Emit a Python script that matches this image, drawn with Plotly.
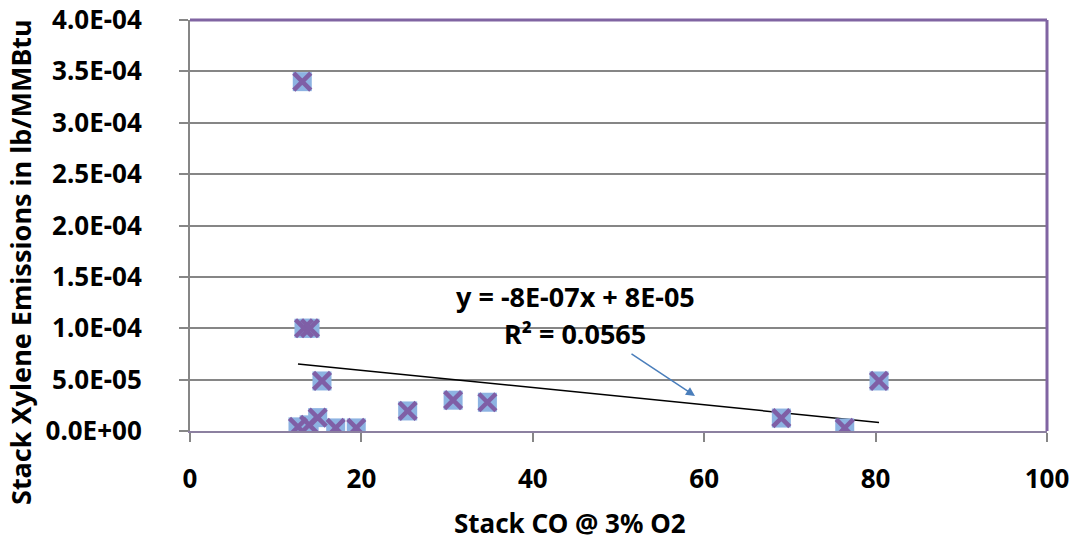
import numpy as np
import plotly.graph_objects as go

# Data
stack_co = [13.1, 13.3, 14.0, 15.4, 25.4, 30.7, 34.7, 69.0, 76.4, 80.4,
            12.6, 13.9, 14.9, 17.0, 19.4]
xylene = [3.40e-4, 1.00e-4, 1.00e-4, 4.87e-5, 1.95e-5, 3.00e-5, 2.80e-5, 1.26e-5, 3.0e-6, 4.87e-5,
          4.0e-6, 6.0e-6, 1.3e-5, 3.0e-6, 3.0e-6]

y_tickvals = [0, 5e-5, 1e-4, 1.5e-4, 2e-4, 2.5e-4, 3e-4, 3.5e-4, 4e-4]
y_ticktext = ["0.0E+00", "5.0E-05", "1.0E-04", "1.5E-04", "2.0E-04",
              "2.5E-04", "3.0E-04", "3.5E-04", "4.0E-04"]
x_tickvals = [0, 20, 40, 60, 80, 100]
x_ticktext = ["0", "20", "40", "60", "80", "100"]

eq_text = "y = -8E-07x + 8E-05"
r2_text = "R² = 0.0565"
x_title = "Stack CO @ 3% O2"
y_title = "Stack Xylene Emissions in lb/MMBtu"

# Linear trendline from the data
slope, intercept = np.polyfit(stack_co, xylene, 1)
tx = np.array([min(stack_co), max(stack_co)])
ty = slope * tx + intercept

FONT = "Noto Sans"
FS = 26
b = lambda s: "<b>" + s + "</b>"

fig = go.Figure()
fig.add_trace(go.Scatter(x=tx, y=ty, mode="lines",
                         line=dict(color="black", width=1.5), hoverinfo="skip"))
fig.add_trace(go.Scatter(x=stack_co, y=xylene, mode="markers",
                         marker=dict(symbol="square", size=19, color="#8DB3E2",
                                     line=dict(width=0))))
fig.add_trace(go.Scatter(x=stack_co, y=xylene, mode="markers",
                         marker=dict(symbol="x-thin", size=17,
                                     line=dict(color="#7F5FA6", width=4.5))))

W, H = 1073, 542
L, R, T, B = 190, 26, 20, 111
pw, ph = W - L - R, H - T - B

def px2paper(px, py):
    return (px - L) / pw, (H - B - py) / ph

fig.update_layout(
    width=W, height=H,
    margin=dict(l=L, r=R, t=T, b=B, autoexpand=False),
    plot_bgcolor="white", paper_bgcolor="white",
    showlegend=False,
    font=dict(family=FONT, color="black"),
    xaxis=dict(range=[0, 100], tickvals=x_tickvals, ticktext=[b(t) for t in x_ticktext],
               showgrid=False, zeroline=False,
               showline=True, linecolor="#8C80A0", linewidth=2,
               ticks="outside", ticklen=9, tickcolor="#868686", tickwidth=2,
               tickfont=dict(size=FS, family=FONT), ticklabelstandoff=15),
    yaxis=dict(range=[0, 4e-4], tickvals=y_tickvals, ticktext=[b(t) for t in y_ticktext],
               showgrid=True, gridcolor="#868686", gridwidth=2, zeroline=False,
               showline=True, linecolor="#868686", linewidth=2,
               ticks="outside", ticklen=9, tickcolor="#868686", tickwidth=2,
               tickfont=dict(size=FS, family=FONT), ticklabelstandoff=32),
    shapes=[
        dict(type="line", xref="paper", yref="paper", x0=0, x1=1, y0=1, y1=1,
             line=dict(color="#8064A2", width=3)),
        dict(type="line", xref="paper", yref="paper", x0=1, x1=1, y0=0, y1=1,
             line=dict(color="#8064A2", width=3)),
    ],
)

for text, px, py, ang, fs in [(eq_text, 575, 296, 0, 27), (r2_text, 575, 333, 0, 27),
                              (x_title, 570, 523, 0, 26), (y_title, 20, 262, -90, 27)]:
    ax_, ay_ = px2paper(px, py)
    fig.add_annotation(text=b(text), xref="paper", yref="paper", x=ax_, y=ay_,
                       xanchor="center", yanchor="middle", textangle=ang,
                       showarrow=False, font=dict(size=fs, family=FONT))

tx_, ty_ = px2paper(695, 396)
fig.add_annotation(xref="paper", yref="paper", axref="pixel", ayref="pixel",
                   x=tx_, y=ty_, ax=-65, ay=-43,
                   showarrow=True, arrowhead=2, arrowsize=1.2, arrowwidth=1.5,
                   arrowcolor="#4A7EBB", text="")
fig.write_html("out.html")
